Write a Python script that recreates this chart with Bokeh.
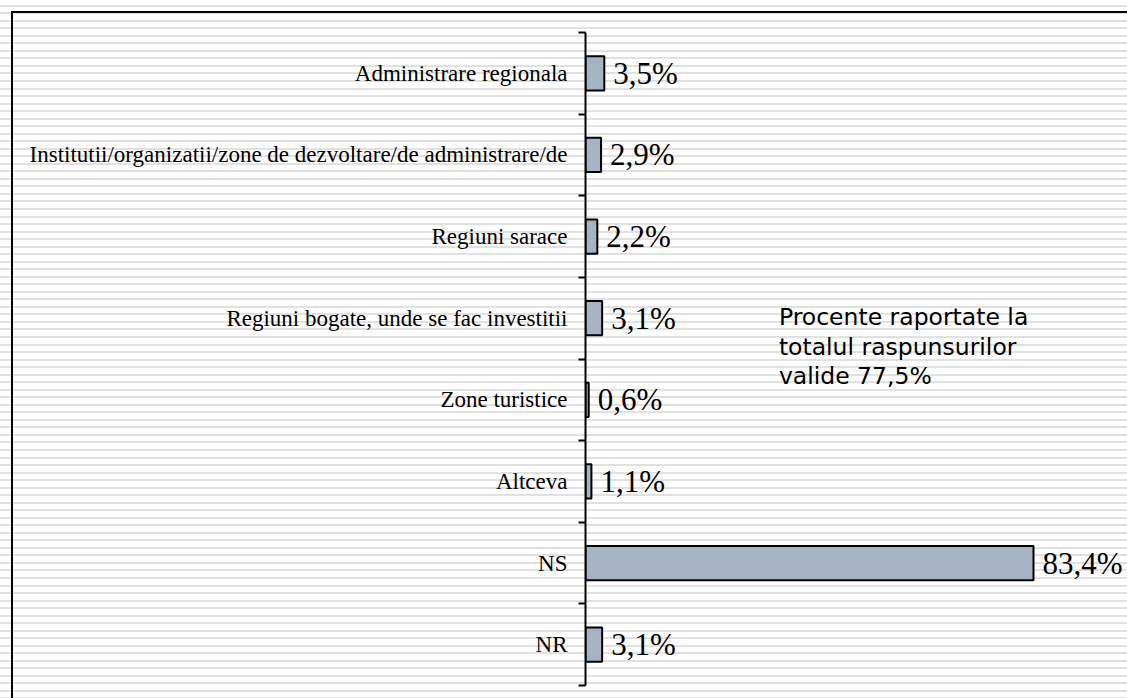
from bokeh.plotting import figure
from bokeh.models import Range1d, FixedTicker, InlineStyleSheet, ColumnDataSource
from bokeh.core.properties import value
from bokeh.embed import file_html
from bokeh.resources import INLINE

# ---- data (top to bottom) ----
categories = [
    "Administrare regionala",
    "Institutii/organizatii/zone de dezvoltare/de administrare/de",
    "Regiuni sarace",
    "Regiuni bogate, unde se fac investitii",
    "Zone turistice",
    "Altceva",
    "NS",
    "NR",
]
values = [3.5, 2.9, 2.2, 3.1, 0.6, 1.1, 83.4, 3.1]
value_labels = [f"{v:.1f}%".replace(".", ",") for v in values]
note_text = "Procente raportate la\ntotalul raspunsurilor\nvalide 77,5%"

n = len(categories)
ypos = [n - i - 0.5 for i in range(n)]

src = ColumnDataSource(dict(y=ypos, v=values, lbl=value_labels, cat=categories))

p = figure(
    width=1127, height=698,
    x_range=Range1d(0, 100.9), y_range=Range1d(0, n),
    output_backend="svg", toolbar_location=None,
    x_axis_location=None,
    min_border_left=585, min_border_right=0, min_border_top=32, min_border_bottom=13,
)

css = """
:host {
  background:
    linear-gradient(#000, #000) 11px 11px / 2px calc(100% - 11px) no-repeat,
    linear-gradient(#000, #000) 11px 11px / calc(100% - 11px) 2px no-repeat,
    repeating-linear-gradient(to bottom, #ffffff 0px, #ffffff 4.7px, #e1e1e1 4.7px, #e1e1e1 6.7px, #ffffff 6.7px, #ffffff 7.53px);
}
"""
p.stylesheets = [InlineStyleSheet(css=css)]

p.background_fill_color = None
p.border_fill_color = None
p.outline_line_color = None
p.xgrid.visible = False
p.ygrid.visible = False

p.hbar(y="y", left=0, right="v", height=0.42, source=src,
       fill_color="#a5b3c3", line_color="black", line_width=2)

p.text(x="v", y="y", text="lbl", source=src, x_offset=9,
       text_baseline="middle", text_align="left",
       text_font=value("Liberation Serif"), text_font_size="31px",
       text_color="black")

ax = p.yaxis[0]
ax.ticker = FixedTicker(ticks=ypos, minor_ticks=list(range(n + 1)))
ax.major_label_overrides = {y: c for y, c in zip(ypos, categories)}
ax.axis_line_color = "black"
ax.axis_line_width = 2
ax.major_tick_line_color = None
ax.major_tick_in = 0
ax.major_tick_out = 0
ax.minor_tick_line_color = "black"
ax.minor_tick_line_width = 2
ax.minor_tick_in = 0
ax.minor_tick_out = 7
ax.major_label_standoff = 11
ax.major_label_text_font = "Liberation Serif"
ax.major_label_text_font_size = "23px"
ax.major_label_text_color = "black"

p.text(x=[36], y=[4.68], text=[note_text],
       text_font=value("DejaVu Sans"), text_font_size="23.5px",
       text_baseline="top", text_align="left",
       text_line_height=1.04, text_color="black")

open("out.html", "w").write(file_html(p, INLINE))
